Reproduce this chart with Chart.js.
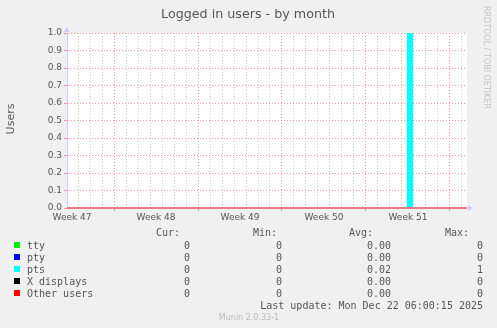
<!DOCTYPE html>
<html><head><meta charset="utf-8">
<script src="https://cdn.jsdelivr.net/npm/chart.js@4/dist/chart.umd.min.js"></script>
<style>html,body{margin:0;padding:0;background:#f0f0f0;}canvas{display:block}</style>
</head><body><canvas id="c" width="497" height="328"></canvas>
<script>
// ---- data (x = days since Mon 17 Nov 2025 00:00) ----
const chartTitle = 'Logged in users - by month';
const yAxisTitle = 'Users';
const watermark = 'RRDTOOL / TOBI OETIKER';
const footer = 'Munin 2.0.33-1';
const lastUpdate = 'Last update: Mon Dec 22 06:00:15 2025';
const weekLabels = ['Week 47', 'Week 48', 'Week 49', 'Week 50', 'Week 51'];
const weekStartDays = [0, 7, 14, 21, 28, 35];
const xStartDay = 3.08;
const xEndDay = 36.42;
const yTickValues = [0, 0.1, 0.2, 0.3, 0.4, 0.5, 0.6, 0.7, 0.8, 0.9, 1.0];
const sampleDays = [3.08, 31.42, 31.42, 31.92, 31.92, 36.42];
const tty = [0, 0, 0, 0, 0, 0];
const pty = [0, 0, 0, 0, 0, 0];
const pts = [0, 0, 1, 1, 0, 0];
const xDisplays = [0, 0, 0, 0, 0, 0];
const otherUsers = [0, 0, 0, 0, 0, 0];
const seriesNames = ['tty', 'pty', 'pts', 'X displays', 'Other users'];
const seriesColors = ['#00ee00', '#0000ff', '#00ffff', '#000000', '#ff0000'];
const legendHeaders = ['Cur:', 'Min:', 'Avg:', 'Max:'];
const curValues = ['0', '0', '0', '0', '0'];
const minValues = ['0', '0', '0', '0', '0'];
const avgValues = ['0.00', '0.00', '0.02', '0.00', '0.00'];
const maxValues = ['0', '0', '1', '0', '0'];

const seriesValues = [tty, pty, pts, xDisplays, otherUsers];
const datasets = seriesNames.map((name, i) => ({
  label: name,
  data: sampleDays.map((d, j) => ({x: d, y: seriesValues[i][j]})),
  borderWidth: 0,
  borderColor: seriesColors[i],
  backgroundColor: seriesColors[i],
  fill: 'origin',
  pointRadius: 0,
  tension: 0
}));

const RED_GRID = 'rgba(240,120,120,0.75)';
const GRAY_GRID = 'rgba(190,190,190,0.8)';
const TXT = '#555555';

const decor = {
  id: 'decor',
  beforeDraw(chart) {
    const {ctx, chartArea: a} = chart;
    ctx.save();
    ctx.fillStyle = '#ffffff';
    ctx.fillRect(a.left, a.top, a.right - a.left, a.bottom - a.top);
    ctx.restore();
  },
  afterDraw(chart) {
    const {ctx, chartArea: a} = chart;
    ctx.save();
    // zero line
    ctx.strokeStyle = '#e87a8a';
    ctx.lineWidth = 2;
    ctx.beginPath(); ctx.moveTo(a.left, a.bottom); ctx.lineTo(a.right, a.bottom); ctx.stroke();
    // arrows
    ctx.fillStyle = '#ccccff';
    ctx.beginPath(); ctx.moveTo(a.left - 3, a.top - 1); ctx.lineTo(a.left + 3, a.top - 1); ctx.lineTo(a.left, a.top - 6); ctx.closePath(); ctx.fill();
    ctx.beginPath(); ctx.moveTo(a.right + 1, a.bottom - 3); ctx.lineTo(a.right + 1, a.bottom + 3); ctx.lineTo(a.right + 6, a.bottom); ctx.closePath(); ctx.fill();
    // title
    ctx.fillStyle = TXT;
    ctx.font = '12.7px "DejaVu Sans"';
    ctx.textAlign = 'center'; ctx.textBaseline = 'alphabetic';
    ctx.fillText(chartTitle, 248, 18);
    // y title
    ctx.save();
    ctx.translate(14, 119); ctx.rotate(-Math.PI / 2);
    ctx.font = '11px "DejaVu Sans"';
    ctx.fillText(yAxisTitle, 0, 0);
    ctx.restore();
    // watermark
    ctx.save();
    ctx.translate(484, 6); ctx.rotate(Math.PI / 2);
    ctx.fillStyle = '#c4c4c4';
    ctx.font = '8px "DejaVu Sans"';
    ctx.textAlign = 'left';
    ctx.fillText(watermark, 0, 0);
    ctx.restore();
    // legend
    ctx.font = '10px "DejaVu Sans Mono"';
    ctx.fillStyle = TXT;
    ctx.textAlign = 'right';
    const headerRight = [180, 277, 373, 469];
    const valueRight = [190, 282, 391, 483];
    legendHeaders.forEach((h, i) => ctx.fillText(h, headerRight[i], 236));
    const cols = [curValues, minValues, avgValues, maxValues];
    seriesNames.forEach((n, r) => {
      const y = 249 + r * 12;
      ctx.fillStyle = seriesColors[r] === '#00ee00' ? '#00ee00' : seriesColors[r];
      ctx.fillRect(14, y - 7, 6, 6);
      ctx.fillStyle = TXT;
      ctx.textAlign = 'left';
      ctx.fillText(n, 27, y);
      ctx.textAlign = 'right';
      cols.forEach((c, k) => ctx.fillText(c[r], valueRight[k], y));
    });
    ctx.fillText(lastUpdate, 483, 309);
    // footer
    ctx.font = '8px "DejaVu Sans"';
    ctx.fillStyle = '#bbbbbb';
    ctx.textAlign = 'center';
    ctx.fillText(footer, 249, 320);
    ctx.restore();
  }
};

const isWeekLabelTick = v => Math.abs(v - Math.round(v)) > 0.25;

new Chart(document.getElementById('c'), {
  type: 'line',
  data: {datasets},
  options: {
    responsive: false,
    animation: false,
    devicePixelRatio: 1,
    layout: {padding: {left: 0, top: 33, right: 30, bottom: 0}},
    plugins: {legend: {display: false}, tooltip: {enabled: false}, title: {display: false}},
    scales: {
      x: {
        type: 'linear',
        min: xStartDay,
        max: xEndDay,
        afterFit: s => { s.height = 120; },
        afterBuildTicks: s => {
          const t = [];
          for (let d = Math.ceil(xStartDay); d <= Math.floor(xEndDay); d++) t.push({value: d});
          weekLabels.forEach((w, i) => t.push({value: weekStartDays[i] + 3.5}));
          t.sort((p, q) => p.value - q.value);
          s.ticks = t;
        },
        ticks: {
          autoSkip: false, maxRotation: 0, padding: 1, color: TXT,
          font: {family: 'DejaVu Sans', size: 9},
          callback: v => {
            if (!isWeekLabelTick(v)) return '';
            const i = weekStartDays.indexOf(Math.round(v - 3.5));
            return i >= 0 && i < weekLabels.length ? weekLabels[i] : '';
          }
        },
        grid: {
          drawOnChartArea: true,
          tickLength: 3,
          lineWidth: 1,
          color: c => {
            const v = c.tick ? c.tick.value : 0;
            if (isWeekLabelTick(v)) return 'rgba(0,0,0,0)';
            return (Math.round(v) % 7 === 0) ? RED_GRID : GRAY_GRID;
          },
          tickColor: c => {
            const v = c.tick ? c.tick.value : 0;
            if (isWeekLabelTick(v)) return 'rgba(0,0,0,0)';
            return (Math.round(v) % 7 === 0) ? RED_GRID : 'rgba(0,0,0,0)';
          }
        },
        border: {display: false, dash: [1, 2]}
      },
      y: {
        type: 'linear',
        min: 0, max: 1,
        afterFit: s => { s.width = 67; },
        afterBuildTicks: s => { s.ticks = yTickValues.map(v => ({value: v})); },
        ticks: {
          padding: 2, color: TXT,
          font: {family: 'DejaVu Sans', size: 9},
          callback: v => Number(v).toFixed(1)
        },
        grid: {color: RED_GRID, tickLength: 3, tickColor: RED_GRID, lineWidth: 1},
        border: {display: true, color: '#ccccff', width: 1, dash: [1, 2]}
      }
    }
  },
  plugins: [decor]
});
</script>
</body></html>
